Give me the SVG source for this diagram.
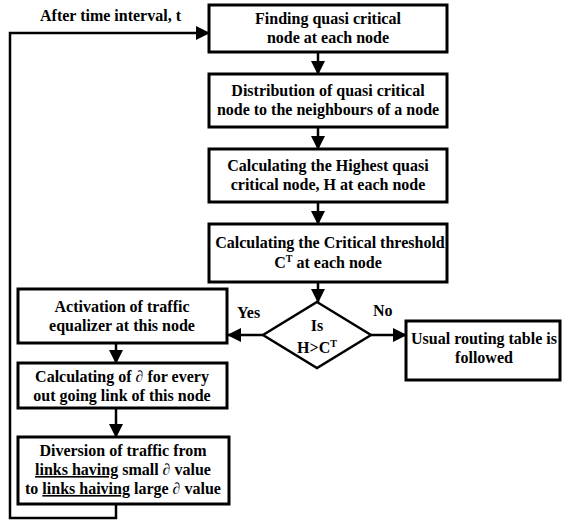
<svg xmlns="http://www.w3.org/2000/svg" width="562" height="521" viewBox="0 0 562 521">
<defs>
<style>
.box{fill:#fff;stroke:#000;stroke-width:3}
.ln{fill:none;stroke:#000;stroke-width:2.5}
text{font-family:'Liberation Serif','Times New Roman',Times,'DejaVu Serif',serif;font-size:16px;font-weight:bold;fill:#000}
.t{text-anchor:middle}
.u{text-decoration:underline}
</style>
<marker id="ah" markerUnits="userSpaceOnUse" markerWidth="14" markerHeight="14" viewBox="0 0 14 14" refX="13" refY="7" orient="auto">
<path d="M0,0 L14,7 L0,14 Z" fill="#000"/>
</marker>
</defs>
<rect width="562" height="521" fill="#fff"/>
<g id="connectors">
<path class="ln" d="M318 52 V74" marker-end="url(#ah)"/>
<path class="ln" d="M318 127 V149" marker-end="url(#ah)"/>
<path class="ln" d="M318 202 V224" marker-end="url(#ah)"/>
<path class="ln" d="M318 282 V302" marker-end="url(#ah)"/>
<path class="ln" d="M263 335 H228" marker-end="url(#ah)"/>
<path class="ln" d="M371 335 H406" marker-end="url(#ah)"/>
<path class="ln" d="M116 343 V363" marker-end="url(#ah)"/>
<path class="ln" d="M116 408 V437" marker-end="url(#ah)"/>
<path class="ln" d="M116 504 V518 H10 V33 H209" marker-end="url(#ah)"/>
<text x="40" y="21">After time interval, t</text>
<text x="237" y="318">Yes</text>
<text x="373" y="316">No</text>
</g>
<g id="n1">
<rect class="box" x="209" y="5" width="238" height="47"/>
<text class="t" x="328" y="24">Finding quasi critical</text>
<text class="t" x="328" y="43">node at each node</text>
</g>
<g id="n2">
<rect class="box" x="209" y="74" width="238" height="53"/>
<text class="t" x="328" y="96">Distribution of quasi critical</text>
<text class="t" x="328" y="115">node to the neighbours of a node</text>
</g>
<g id="n3">
<rect class="box" x="209" y="149" width="238" height="53"/>
<text class="t" x="328" y="171">Calculating the Highest quasi</text>
<text class="t" x="328" y="190">critical node, H at each node</text>
</g>
<g id="n4">
<rect class="box" x="209" y="224" width="238" height="58"/>
<text class="t" x="330" y="248">Calculating the Critical threshold</text>
<text class="t" x="328" y="268">C<tspan font-size="10" dy="-6">T</tspan><tspan dy="6"> at each node</tspan></text>
</g>
<g id="decision">
<path class="ln" d="M317 302 L371 335 L317 368 L263 335 Z" fill="#fff"/>
<text class="t" x="317" y="331">Is</text>
<text class="t" x="317" y="353">H&gt;C<tspan font-size="10" dy="-6">T</tspan></text>
</g>
<g id="n5">
<rect class="box" x="406" y="321" width="154" height="59"/>
<text class="t" x="484" y="344">Usual routing table is</text>
<text class="t" x="484" y="363">followed</text>
</g>
<g id="n6">
<rect class="box" x="18" y="289" width="209" height="54"/>
<text class="t" x="122" y="312">Activation of traffic</text>
<text class="t" x="122" y="331">equalizer at this node</text>
</g>
<g id="n7">
<rect class="box" x="18" y="363" width="209" height="45"/>
<text class="t" x="122" y="382">Calculating of ∂ for every</text>
<text class="t" x="122" y="401">out going link of this node</text>
</g>
<g id="n8">
<rect class="box" x="18" y="437" width="211" height="67"/>
<text class="t" x="123" y="456">Diversion of traffic from</text>
<text class="t" x="123" y="475"><tspan class="u">links having</tspan> small ∂ value</text>
<text class="t" x="123" y="494">to <tspan class="u">links haiving</tspan> large ∂ value</text>
</g>
</svg>
